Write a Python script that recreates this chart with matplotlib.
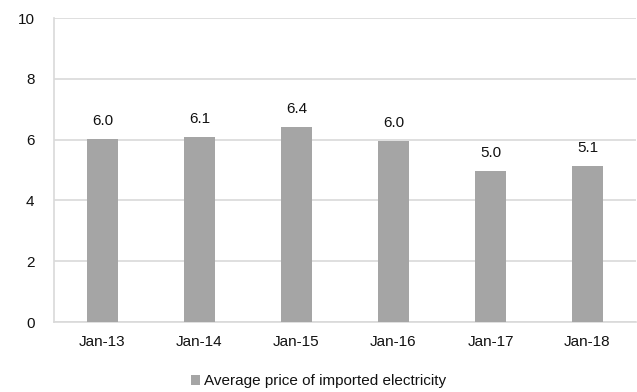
import matplotlib
matplotlib.use("Agg")
import matplotlib.pyplot as plt
import numpy as np

plt.rcParams['font.family'] = ['Liberation Sans', 'DejaVu Sans']

months = ['Jan-13', 'Jan-14', 'Jan-15', 'Jan-16', 'Jan-17', 'Jan-18']
price = [6.02, 6.08, 6.42, 5.96, 4.97, 5.14]
price_labels = ['6.0', '6.1', '6.4', '6.0', '5.0', '5.1']

fig = plt.figure(figsize=(6.37, 3.92), dpi=100)
ax = fig.add_axes([54/637, 1 - 322/392, 582/637, 304/392])

x = np.arange(len(months))
bars = ax.bar(x, price, width=0.32, color='#a5a5a5', zorder=3,
              label='Average price of imported electricity')
for b, lab in zip(bars, price_labels):
    ax.annotate(lab, (b.get_x() + b.get_width() / 2, b.get_height()),
                xytext=(0, 8), textcoords='offset points',
                ha='center', va='bottom', fontsize=11, color='#111111')

ax.set_xlim(-0.5, len(months) - 0.5)
ax.set_ylim(0, 10)
ax.set_yticks([0, 2, 4, 6, 8, 10])
ax.set_xticks(x)
ax.set_xticklabels(months)
ax.yaxis.grid(True, color='#d9d9d9', linewidth=1.2, zorder=0)
for s in ['top', 'right']:
    ax.spines[s].set_visible(False)
ax.spines['left'].set_color('#d9d9d9')
ax.spines['bottom'].set_color('#d9d9d9')
ax.spines['left'].set_linewidth(1.2)
ax.spines['bottom'].set_linewidth(1.2)
ax.tick_params(length=0, labelsize=11, colors='#111111')
ax.tick_params(axis='x', pad=9)
ax.tick_params(axis='y', pad=14)

fig.legend(loc='lower center', bbox_to_anchor=(0.5, -0.025), frameon=False,
           fontsize=11, handlelength=0.6, handleheight=0.6, handletextpad=0.3,
           labelcolor='#111111')

fig.savefig('out.png', dpi=100)
